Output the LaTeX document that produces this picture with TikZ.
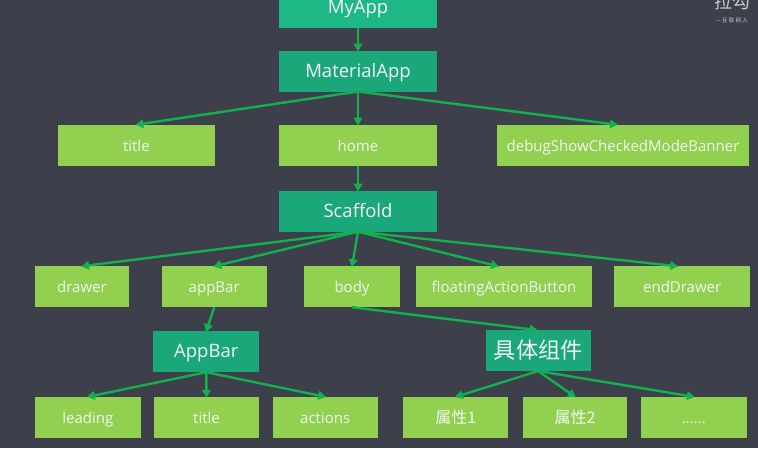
\documentclass[tikz,border=0pt]{standalone}
\usepackage{fontspec}
\setmainfont{Open Sans}
\newfontfamily\cjk{Noto Sans CJK SC}
\usetikzlibrary{arrows.meta}
\definecolor{bgc}{HTML}{3D3F4B}
\definecolor{tealA}{HTML}{1DB886}
\definecolor{tealB}{HTML}{1AA87A}
\definecolor{lgreen}{HTML}{92D050}
\definecolor{arr}{HTML}{12B04F}
\definecolor{txt}{HTML}{F4F4F4}
\definecolor{wm}{HTML}{C9CACE}
\tikzset{
  x=1pt,y=-1pt,
  base/.style={inner sep=0pt,outer sep=0pt,text=txt,anchor=center},
  big/.style={base,fill=tealB,minimum height=41pt,text height=12pt,text depth=0pt,font=\fontsize{18.5}{20}\selectfont},
  small/.style={base,fill=lgreen,minimum height=41pt,text height=12pt,text depth=0pt,font=\fontsize{15}{16}\selectfont},
  cjkbig/.style={big,text height=16.8pt,font=\cjk\fontsize{22.2}{23}\selectfont},
  cjksmall/.style={small,text height=12.4pt,font=\cjk\fontsize{16}{17}\selectfont},
  link/.style={draw=arr,line width=2.4pt,-{Triangle[length=8pt,width=8.5pt]},shorten >=-1pt}
}
\begin{document}
\begin{tikzpicture}
\fill[bgc] (0,0) rectangle (758,448);
\useasboundingbox (0,0) rectangle (758,448);
% watermark
\node[base,text=wm,anchor=north west,font=\cjk\fontsize{18}{18}\selectfont] (wm1) at (714,-7) {拉勾};
\node[base,text=wm,anchor=west,font=\cjk\fontsize{5.5}{6}\selectfont] (wm2) at (716,20) {— 互 联 网 人};
% nodes
\node[big,fill=tealA,minimum width=158pt] (myapp) at (358,7) {MyApp};
\node[big,minimum width=158pt] (material) at (358,71) {MaterialApp};
\node[small,minimum width=157pt] (title1) at (136.4,145.2) {title};
\node[small,minimum width=158pt] (home) at (358,145.2) {home};
\node[small,minimum width=252.6pt] (debug) at (623,145.2) {debugShowCheckedModeBanner};
\node[big,minimum width=158pt] (scaffold) at (358,211.2) {Scaffold};
\node[small,minimum width=94pt] (drawer) at (82,286.7) {drawer};
\node[small,minimum width=105pt] (appbar1) at (214.2,286.7) {appBar};
\node[small,minimum width=96pt] (body) at (352,286.7) {body};
\node[small,minimum width=176.6pt] (fab) at (504,286.7) {floatingActionButton};
\node[small,minimum width=135.7pt] (enddrawer) at (682.2,286.7) {endDrawer};
\node[big,minimum width=106pt] (appbar2) at (206.3,351.7) {AppBar};
\node[cjkbig,minimum width=105pt] (juti) at (538.2,350.5) {具体组件};
\node[small,minimum width=105.7pt] (leading) at (87.8,417.3) {leading};
\node[small,minimum width=105.6pt] (title2) at (206.5,417.3) {title};
\node[small,minimum width=105pt] (actions) at (325.2,417.3) {actions};
\node[cjksmall,minimum width=105pt] (p1) at (455.8,417.3) {属性1};
\node[cjksmall,minimum width=104.6pt] (p2) at (575,417.3) {属性2};
\node[small,minimum width=105.7pt] (dots) at (693.8,417.3) {......};
% connectors
\draw[link] (myapp.south) -- (material.north);
\draw[link] (material.south) -- (title1.north);
\draw[link] (material.south) -- (home.north);
\draw[link] (material.south) -- ([xshift=-6pt]debug.north);
\draw[link] (home.south) -- (scaffold.north);
\draw[link] (scaffold.south) -- (drawer.north);
\draw[link] (scaffold.south) -- (appbar1.north);
\draw[link] (scaffold.south) -- (body.north);
\draw[link] (scaffold.south) -- ([xshift=-6pt]fab.north);
\draw[link] (scaffold.south) -- ([xshift=-5pt]enddrawer.north);
\draw[link] (appbar1.south) -- (appbar2.north);
\draw[link] (body.south) -- ([xshift=-1.5pt]juti.north);
\draw[link] (appbar2.south) -- (leading.north);
\draw[link] (appbar2.south) -- (title2.north);
\draw[link] (appbar2.south) -- (actions.north);
\draw[link] (juti.south) -- (p1.north);
\draw[link] (juti.south) -- (p2.north);
\draw[link] (juti.south) -- (dots.north);
\end{tikzpicture}
\end{document}
